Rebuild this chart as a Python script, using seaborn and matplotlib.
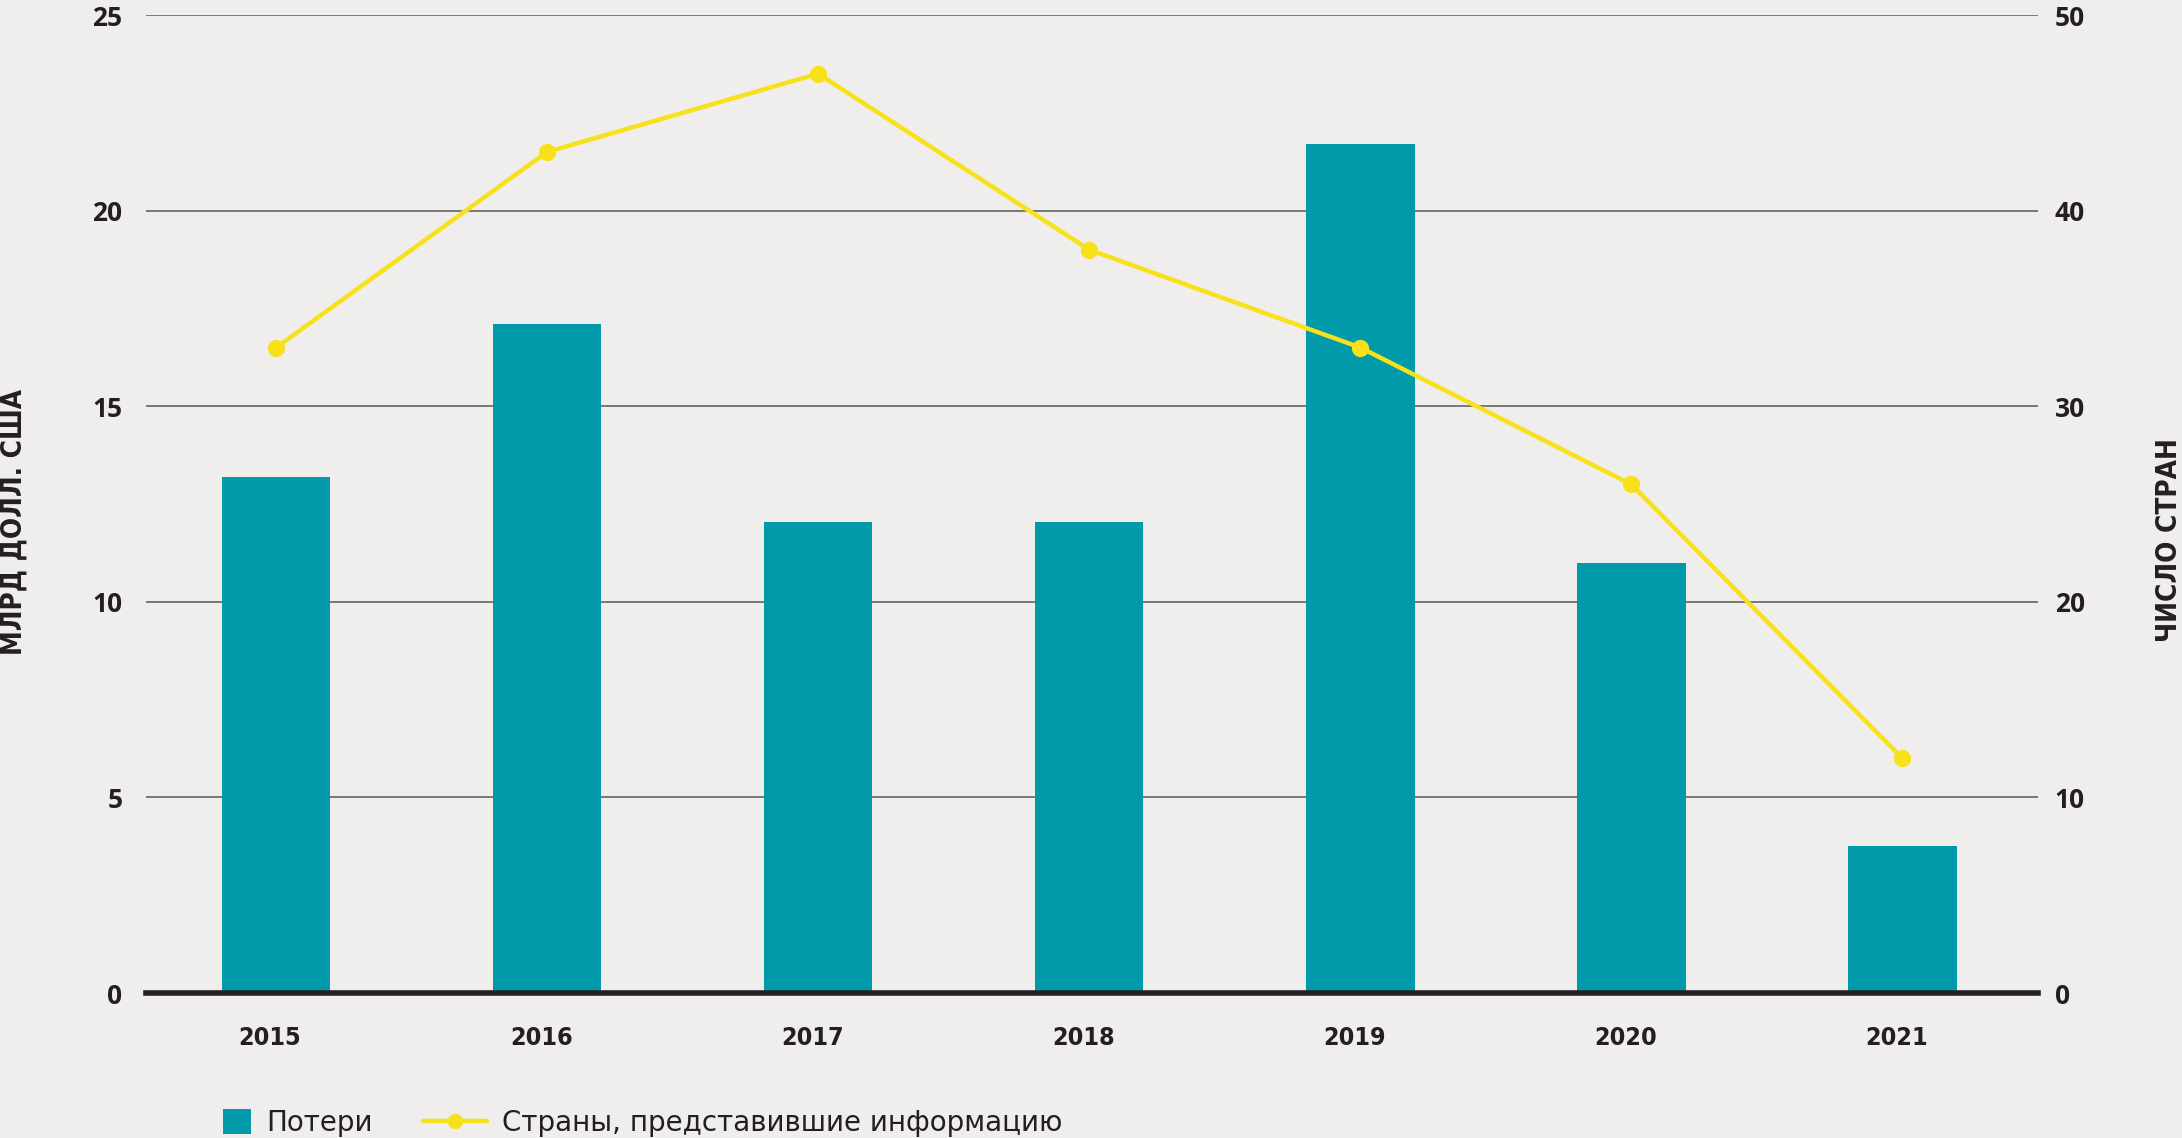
import numpy as np
import pandas as pd
import matplotlib
matplotlib.use("Agg")
import matplotlib.pyplot as plt
import matplotlib.transforms as mtransforms
import seaborn as sns
from matplotlib import font_manager as fm
from matplotlib.patches import Patch
from matplotlib.lines import Line2D

years = ["2015", "2016", "2017", "2018", "2019", "2020", "2021"]
losses = [13.2, 17.1, 12.05, 12.05, 21.7, 11.0, 3.75]
countries = [33, 43, 47, 38, 33, 26, 12]
left_ticks = [0, 5, 10, 15, 20, 25]
right_ticks = [0, 10, 20, 30, 40, 50]
left_label = "МЛРД ДОЛЛ. США"
right_label = "ЧИСЛО СТРАН"
legend_labels = ["Потери", "Страны, представившие информацию"]

BG = "#EFEEEC"
TEAL = "#009AAA"
YELLOW = "#F7E11A"
TXT = "#231F20"


def has_font(name):
    try:
        fm.findfont(fm.FontProperties(family=name), fallback_to_default=False)
        return True
    except Exception:
        return False


sns.set_style("white", {"axes.facecolor": BG, "figure.facecolor": BG})
TICKF = "Open Sans" if has_font("Open Sans") else "DejaVu Sans"
plt.rcParams["font.family"] = ["DejaVu Sans"]

cond_path = fm.findfont(fm.FontProperties(family="DejaVu Sans", weight="bold",
                                          stretch="condensed"))
CONDENSED = "ondensed" in cond_path
STRETCH = "condensed" if CONDENSED else "normal"
if CONDENSED:
    year_fs, label_fs = 18, 20
else:
    year_fs, label_fs = 16.5, 18
legend_fs = 20
tick_fs = 19 if TICKF == "Open Sans" else 16

df = pd.DataFrame({"year": years, "loss": losses, "countries": countries})

fig = plt.figure(figsize=(21.82, 11.38), dpi=100, facecolor=BG)
ax = fig.add_axes([0.0669, 0.1274, 0.8671, 0.8594])
ax.set_facecolor(BG)
sns.barplot(data=df, x="year", y="loss", color=TEAL, width=0.4,
            saturation=1, linewidth=0, ax=ax)
ax2 = ax.twinx()
sns.pointplot(data=df, x="year", y="countries", ax=ax2, color=YELLOW,
              markers="o", markersize=10, linewidth=3.2, errorbar=None)

ax.set_xlim(-0.48, 6.5)
ax.set_ylim(0, 25)
ax2.set_ylim(0, 50)
ax.set_yticks(left_ticks)
ax2.set_yticks(right_ticks)
ax.set_axisbelow(True)
ax.yaxis.grid(True, color="#6E6E6E", linewidth=1.3)
ax.xaxis.grid(False)
ax2.grid(False)

for s in ["top", "left", "right"]:
    ax.spines[s].set_visible(False)
for s in ax2.spines.values():
    s.set_visible(False)
ax.spines["bottom"].set_color(TXT)
ax.spines["bottom"].set_linewidth(4)

ax.set_xlabel("")
ax.set_ylabel("")
ax2.set_xlabel("")
ax2.set_ylabel("")

ax.tick_params(axis="both", length=0)
ax2.tick_params(axis="both", length=0)
ax.tick_params(axis="x", pad=24)
ax.tick_params(axis="y", pad=17)
ax2.tick_params(axis="y", pad=12)

shift = mtransforms.ScaledTranslation(-6 / 100, 0, fig.dpi_scale_trans)
for t in ax.get_xticklabels():
    t.set_fontfamily(["DejaVu Sans"])
    t.set_fontweight("bold")
    t.set_fontstretch(STRETCH)
    t.set_fontsize(year_fs)
    t.set_color(TXT)
    t.set_transform(t.get_transform() + shift)
for t in ax.get_yticklabels() + ax2.get_yticklabels():
    t.set_fontfamily([TICKF, "DejaVu Sans"])
    t.set_fontweight("bold")
    t.set_fontsize(tick_fs)
    t.set_color(TXT)

fig.text(0.0064, 0.541, left_label, rotation=90, ha="center", va="center",
         fontsize=label_fs, fontweight="bold", fontstretch=STRETCH, color=TXT)
fig.text(0.994, 0.525, right_label, rotation=90, ha="center", va="center",
         fontsize=label_fs, fontweight="bold", fontstretch=STRETCH, color=TXT)

h1 = Patch(facecolor=TEAL, edgecolor="none")
h2 = Line2D([], [], color=YELLOW, linewidth=3.2, marker="o", markersize=10)
leg1 = fig.legend(handles=[h1], labels=[legend_labels[0]], loc="center left",
                  bbox_to_anchor=(0.102, 0.013), frameon=False,
                  fontsize=legend_fs, handlelength=1.02, handleheight=1.0,
                  handletextpad=0.55, borderpad=0, borderaxespad=0)
leg2 = fig.legend(handles=[h2], labels=[legend_labels[1]], loc="center left",
                  bbox_to_anchor=(0.194, 0.013), frameon=False,
                  fontsize=legend_fs, handlelength=2.3,
                  handletextpad=0.55, borderpad=0, borderaxespad=0)
for leg in (leg1, leg2):
    for t in leg.get_texts():
        t.set_color(TXT)

fig.savefig("out.png", dpi=100, facecolor=BG)
